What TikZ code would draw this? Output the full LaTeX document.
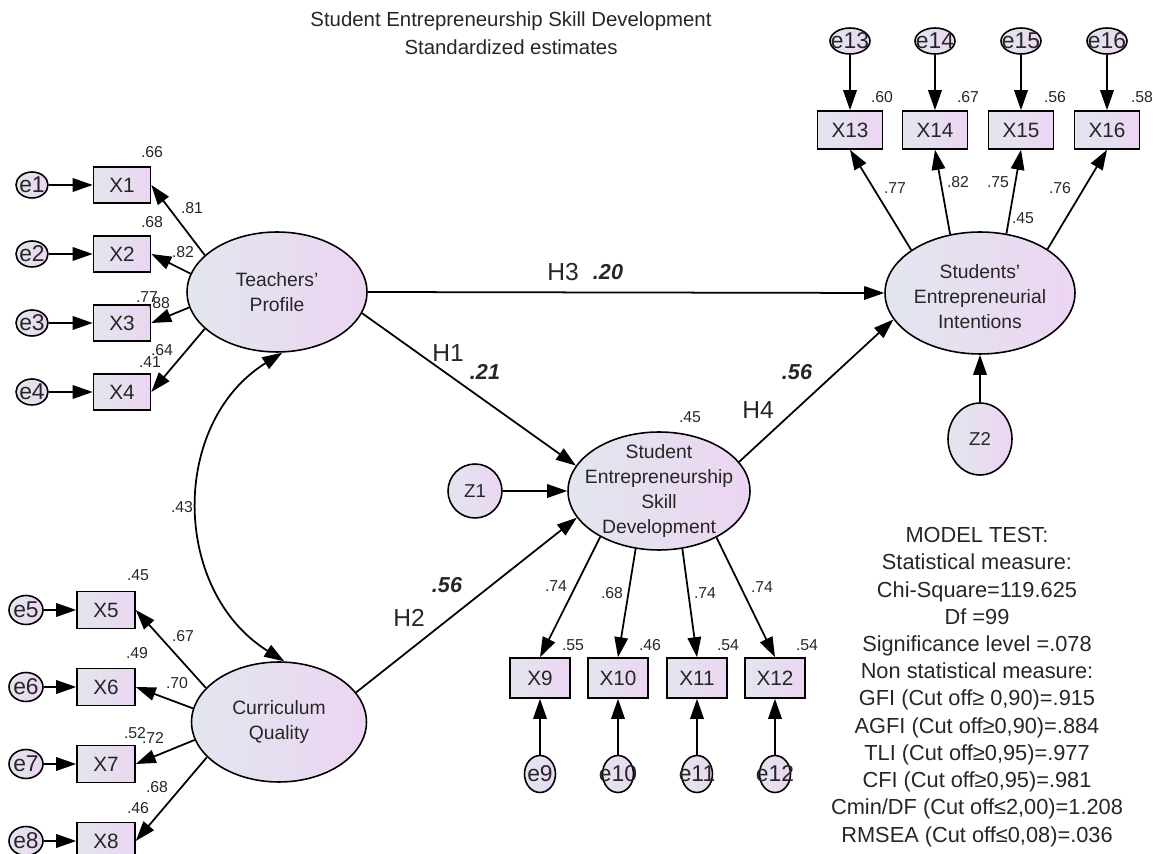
\documentclass[tikz,border=0pt]{standalone}
\usepackage{fontspec}
\setmainfont{Liberation Sans}
\usetikzlibrary{shapes.geometric,arrows.meta}
\definecolor{shadeA}{HTML}{E2E6EE}
\definecolor{shadeB}{HTML}{ECD5F2}
\newcommand{\tsz}[2]{\fontsize{#1}{#2}\selectfont}
\begin{document}
\begin{tikzpicture}[x=0.02cm,y=-0.02cm,
    every node/.style={text=black!85},
    lat/.style={ellipse,draw,line width=0.9pt,left color=shadeA,right color=shadeB,inner sep=0pt},
    lattext/.style={align=center,font=\tsz{11}{14.2}},
    obs/.style={rectangle,draw,line width=0.9pt,left color=shadeA,right color=shadeB,inner sep=0pt,minimum width=1.14cm,minimum height=0.72cm,font=\tsz{11.8}{14}},
    err/.style={ellipse,draw,line width=0.9pt,left color=shadeA,right color=shadeB,inner xsep=-6pt,inner ysep=-3pt,font=\tsz{13}{15}},
    arr/.style={line width=1pt,-{Triangle[length=4mm,width=2.7mm]}},
    est/.style={font=\tsz{9}{10}},
    hyp/.style={font=\tsz{14}{16}},
    coef/.style={font=\tsz{12.3}{14}\bfseries\itshape}]
  \useasboundingbox (0,0) rectangle (1154,854);
  \node[align=center,font=\tsz{11.6}{15.9}] (title) at (511,33) {Student Entrepreneurship Skill Development\\Standardized estimates};

  % latent variables
  \node[lat,minimum width=3.6cm,minimum height=2.4cm] (tp) at (277,292) {};
  \node[lattext] (tptext) at (tp) {Teachers'\\Profile};
  \node[lat,minimum width=3.5cm,minimum height=2.4cm] (cq) at (279,722) {};
  \node[lattext] (cqtext) at (cq) {Curriculum\\Quality};
  \node[lat,minimum width=3.64cm,minimum height=2.36cm] (sesd) at (659,491) {};
  \node[lattext] (sesdtext) at (sesd) {Student\\Entrepreneurship\\Skill\\Development};
  \node[lat,minimum width=3.8cm,minimum height=2.44cm] (sei) at (980,293) {};
  \node[lattext] (seitext) at (980,297) {Students'\\Entrepreneurial\\Intentions};
  \node[err,minimum width=1.08cm,minimum height=1.08cm,font=\tsz{10.6}{12}] (z1) at (475,491) {Z1};
  \node[err,minimum width=1.28cm,minimum height=1.44cm,font=\tsz{10.6}{12}] (z2) at (980,439) {Z2};

  % indicators
  \foreach \i/\y in {1/185,2/254,3/323,4/392} {
    \node[err,minimum width=0.64cm,minimum height=0.52cm] (e\i) at (32,\y) {e\i};
    \node[obs] (x\i) at (122,\y) {X\i};
    \draw[arr] (e\i) -- (x\i);
  }
  \foreach \i/\y in {5/610,6/687,7/764,8/841} {
    \node[err,minimum width=0.68cm,minimum height=0.58cm] (e\i) at (26,\y) {e\i};
    \node[obs,minimum width=1.16cm,minimum height=0.74cm] (x\i) at (106,\y) {X\i};
    \draw[arr] (e\i) -- (x\i);
  }
  \foreach \i/\x in {9/540,10/618,11/697,12/775} {
    \node[obs,minimum width=1.2cm,minimum height=0.8cm] (x\i) at (\x,678) {X\i};
    \node[err,minimum width=0.62cm,minimum height=0.74cm] (e\i) at (\x,774) {e\i};
    \draw[arr] (e\i) -- (x\i);
  }
  \foreach \i/\x in {13/850,14/935,15/1021,16/1107} {
    \node[err,minimum width=0.8cm,minimum height=0.52cm] (e\i) at (\x,41) {e\i};
    \node[obs,minimum width=1.3cm,minimum height=0.76cm] (x\i) at (\x,130) {X\i};
    \draw[arr] (e\i) -- (x\i);
  }

  % loadings
  \foreach \i/\a in {1/153,2/168,3/190,4/207} \draw[arr] (tp.\a) -- (x\i.east);
  \foreach \i/\a in {5/155,6/171,7/192,8/206} \draw[arr] (cq.\a) -- (x\i.east);
  \foreach \i/\a in {9/218,10/248,11/292,12/321} \draw[arr] (sesd.\a) -- (x\i.north);
  \foreach \i/\a in {13/148,14/117,15/66,16/33} \draw[arr] (sei.\a) -- (x\i.south);

  % structural paths
  \draw[arr] (tp.east) -- (sei.west);
  \draw[arr] (tp.346) -- (sesd.163);
  \draw[arr] (cq.21) -- (sesd.198);
  \draw[arr] (sesd.20) -- (sei.197);
  \draw[arr] (z1) -- (sesd.west);
  \draw[arr] (z2) -- (sei.south);
  \draw[line width=1pt,{Triangle[length=4mm,width=2.7mm]}-{Triangle[length=4mm,width=2.7mm]}]
    (tp.275) to[out=212,in=148,looseness=1.1] (cq.85);

  % estimates
  \foreach \t/\x/\y [count=\k] in {.66/152/152,.81/192/208,.68/152/222,.82/183/252,.77/147/297,.88/159/303,
      .64/162/350,.41/150/362,.45/138/575,.67/183/636,.49/137/653,.70/177/683,.52/135/733,.72/153/738,
      .68/157/787,.46/138/808,.43/182/507,.74/556/586,.68/612/593,.74/705/593,.74/762/587,.55/573/645,
      .46/650/645,.54/728/645,.54/807/645,.45/690/417,.60/882/97,.67/968/97,.56/1055/97,.58/1142/97,
      .77/895/188,.82/958/182,.75/998/182,.76/1060/188,.45/1023/218}
    \node[est] (est\k) at (\x,\y) {\t};

  \node[hyp] (h3) at (563,272) {H3};
  \node[coef] (b3) at (608,272) {.20};
  \node[hyp] (h1) at (448,353) {H1};
  \node[coef] (b1) at (485,372) {.21};
  \node[hyp] (h2) at (409,618) {H2};
  \node[coef] (b2) at (447,585) {.56};
  \node[hyp] (h4) at (758,410) {H4};
  \node[coef] (b4) at (797,372) {.56};

  \node[align=center,font=\tsz{12.4}{15.5}] (test) at (977,687) {MODEL TEST:\\Statistical measure:\\Chi-Square=119.625\\Df =99\\Significance level =.078\\Non statistical measure:\\GFI (Cut off≥ 0,90)=.915\\AGFI (Cut off≥0,90)=.884\\TLI (Cut off≥0,95)=.977\\CFI (Cut off≥0,95)=.981\\Cmin/DF (Cut off≤2,00)=1.208\\RMSEA (Cut off≤0,08)=.036};
\end{tikzpicture}
\end{document}
